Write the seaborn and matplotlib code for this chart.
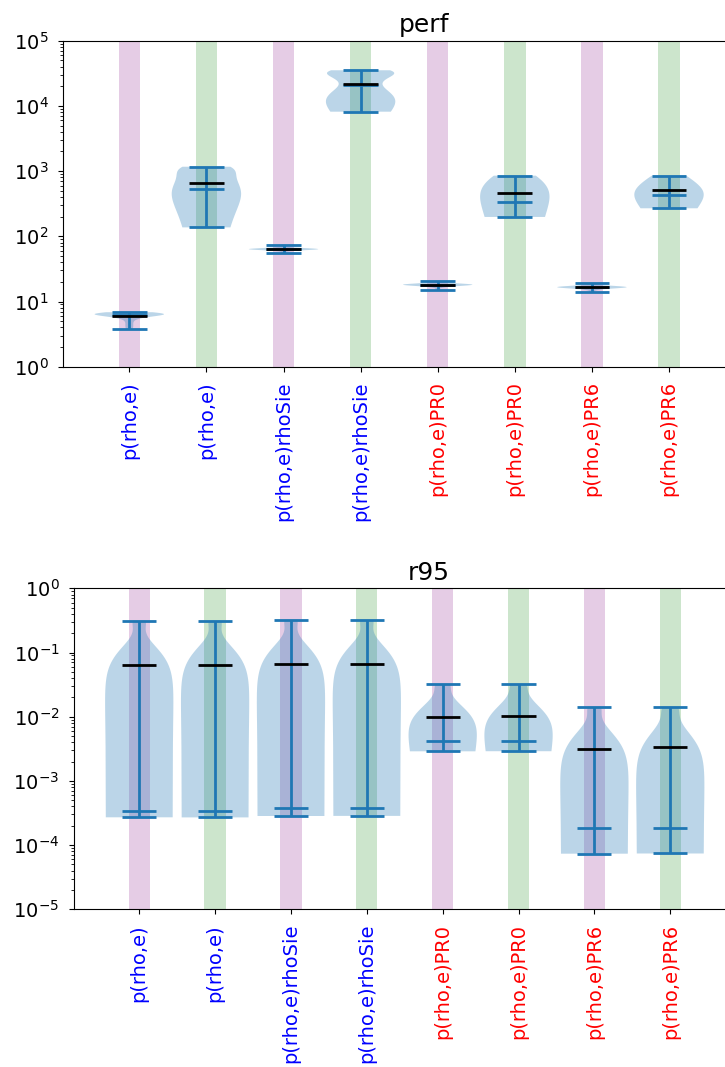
import numpy as np
import pandas as pd
import matplotlib
matplotlib.use("Agg")
import matplotlib.pyplot as plt
import seaborn as sns

# ---- categories -------------------------------------------------------------
labels = ["p(rho,e)", "p(rho,e)", "p(rho,e)rhoSie", "p(rho,e)rhoSie",
          "p(rho,e)PR0", "p(rho,e)PR0", "p(rho,e)PR6", "p(rho,e)PR6"]
label_colors = ["blue", "blue", "blue", "blue", "red", "red", "red", "red"]
band_colors = ["purple", "green", "purple", "green",
               "purple", "green", "purple", "green"]

# ---- perf samples -----------------------------------------------------------
perf_pe_a = [3.79, 4.4, 5.1, 5.6, 5.85, 6.0, 6.1, 6.15, 6.2, 6.25, 6.3,
             6.35, 6.4, 6.45, 6.5, 6.55, 6.6, 6.65, 6.7, 6.75, 6.85]
perf_pe_b = [137, 150, 175, 240, 330, 400, 430, 455, 475, 500, 526,
             620, 780, 880, 960, 1020, 1060, 1100, 1130, 1150, 1167]
perf_sie_a = [55.5, 60.5, 61.5, 62.0, 62.3, 62.6, 62.8, 63.0, 63.2, 63.4, 63.6,
              63.8, 64.0, 64.2, 64.5, 64.8, 65.2, 65.6, 66.2, 67.5, 74.3]
perf_sie_b = [8150, 8600, 9200, 9800, 10500, 11200, 12000, 13000, 14500, 16500, 21000,
              26000, 28500, 30000, 31000, 32000, 33000, 33800, 34400, 34900, 35200]
perf_pr0_a = [14.85, 16.6, 17.2, 17.4, 17.55, 17.7, 17.8, 17.9, 18.0, 18.05, 18.1,
              18.15, 18.2, 18.3, 18.4, 18.5, 18.65, 18.8, 19.0, 19.5, 20.8]
perf_pr0_b = [198, 215, 235, 255, 270, 285, 295, 305, 315, 325, 336,
              370, 410, 470, 560, 700, 790, 820, 835, 845, 851]
perf_pr6_a = [13.8, 15.2, 15.7, 15.9, 16.05, 16.2, 16.3, 16.4, 16.5, 16.55, 16.6,
              16.65, 16.7, 16.8, 16.9, 17.0, 17.15, 17.3, 17.5, 17.9, 19.0]
perf_pr6_b = [269, 290, 310, 330, 345, 360, 375, 390, 400, 412, 425,
              440, 470, 510, 570, 675, 760, 810, 830, 845, 851]

# ---- r95 samples ------------------------------------------------------------
r95_pe_a = [2.71e-4, 2.75e-4, 2.8e-4, 2.85e-4, 2.9e-4, 2.95e-4, 3.0e-4, 3.1e-4, 3.2e-4, 3.3e-4, 3.4e-4,
            0.01, 0.02, 0.04, 0.06, 0.08, 0.11, 0.13, 0.28, 0.3, 0.313]
r95_pe_b = [2.7e-4, 2.74e-4, 2.8e-4, 2.86e-4, 2.9e-4, 2.96e-4, 3.02e-4, 3.1e-4, 3.2e-4, 3.3e-4, 3.4e-4,
            0.01, 0.02, 0.04, 0.06, 0.08, 0.11, 0.13, 0.275, 0.3, 0.313]
r95_sie_a = [2.84e-4, 2.9e-4, 2.95e-4, 3.0e-4, 3.1e-4, 3.2e-4, 3.3e-4, 3.45e-4, 3.55e-4, 3.7e-4, 3.83e-4,
             0.01, 0.02, 0.04, 0.06, 0.085, 0.115, 0.135, 0.29, 0.31, 0.324]
r95_sie_b = [2.85e-4, 2.9e-4, 2.96e-4, 3.0e-4, 3.1e-4, 3.2e-4, 3.3e-4, 3.45e-4, 3.55e-4, 3.7e-4, 3.83e-4,
             0.01, 0.02, 0.04, 0.06, 0.085, 0.115, 0.135, 0.29, 0.31, 0.322]
r95_pr0_a = [2.89e-3, 2.95e-3, 3.0e-3, 3.1e-3, 3.2e-3, 3.3e-3, 3.45e-3, 3.6e-3, 3.8e-3, 4.0e-3, 4.18e-3,
             0.005, 0.007, 0.009, 0.011, 0.013, 0.016, 0.019, 0.03, 0.031, 0.032]
r95_pr0_b = [2.9e-3, 2.95e-3, 3.0e-3, 3.1e-3, 3.2e-3, 3.3e-3, 3.45e-3, 3.6e-3, 3.8e-3, 4.0e-3, 4.2e-3,
             0.005, 0.007, 0.009, 0.012, 0.014, 0.017, 0.021, 0.031, 0.0315, 0.032]
r95_pr6_a = [7.35e-5, 8e-5, 9e-5, 1.0e-4, 1.1e-4, 1.2e-4, 1.3e-4, 1.45e-4, 1.6e-4, 1.72e-4, 1.85e-4,
             0.0005, 0.001, 0.002, 0.003, 0.0043, 0.0058, 0.0068, 0.0128, 0.0137, 0.0143]
r95_pr6_b = [7.4e-5, 8e-5, 9e-5, 1.0e-4, 1.1e-4, 1.2e-4, 1.3e-4, 1.45e-4, 1.6e-4, 1.72e-4, 1.85e-4,
             0.0006, 0.0012, 0.0024, 0.0035, 0.005, 0.0066, 0.0095, 0.0129, 0.0138, 0.0143]

perf = [perf_pe_a, perf_pe_b, perf_sie_a, perf_sie_b,
        perf_pr0_a, perf_pr0_b, perf_pr6_a, perf_pr6_b]
r95 = [r95_pe_a, r95_pe_b, r95_sie_a, r95_sie_b,
       r95_pr0_a, r95_pr0_b, r95_pr6_a, r95_pr6_b]

# kernel bandwidth multiplier used for each violin
perf_bw = [1.0, 1.3, 1.0, 1.0, 1.0, 2.5, 1.0, 2.0]
r95_bw = [1.3, 1.3, 1.3, 1.3, 1.3, 1.3, 1.3, 1.3]

BODY = "#1f77b4"
XLIM = (-0.86, 8.5)


def draw_panel(ax, samples, bws, title, ylim):
    pos = np.arange(len(samples))
    # alternating background bands behind each violin
    for i, c in enumerate(band_colors):
        ax.axvspan(i - 0.14, i + 0.14, color=c, alpha=0.2, lw=0, zorder=0)

    n0 = len(ax.collections)
    for i, (s, bw) in enumerate(zip(samples, bws)):
        df = pd.DataFrame({"slot": np.full(len(s), i), "value": np.asarray(s, float)})
        sns.violinplot(data=df, x="slot", y="value", native_scale=True, orient="x",
                       color=BODY, saturation=1, cut=0, inner=None,
                       density_norm="width", width=0.9, bw_adjust=bw,
                       linewidth=0, ax=ax)
    for coll in ax.collections[n0:]:
        coll.set_alpha(0.3)
        coll.set_edgecolor("none")
        coll.set_zorder(1)

    mins = [np.min(s) for s in samples]
    maxs = [np.max(s) for s in samples]
    meds = [np.median(s) for s in samples]
    means = [np.mean(s) for s in samples]
    half = 0.225
    lw = 2
    ax.vlines(pos, mins, maxs, color=BODY, lw=lw, zorder=3)
    ax.hlines(mins, pos - half, pos + half, color=BODY, lw=lw, zorder=3)
    ax.hlines(maxs, pos - half, pos + half, color=BODY, lw=lw, zorder=3)
    ax.hlines(meds, pos - half, pos + half, color=BODY, lw=lw, zorder=3)
    ax.hlines(means, pos - half, pos + half, color="black", lw=lw, zorder=4)

    ax.set_yscale("log")
    ax.set_ylim(*ylim)
    ax.set_xlim(*XLIM)
    ax.set_xticks(pos)
    ax.set_xticklabels(labels, rotation=90, fontsize=14)
    for t, c in zip(ax.get_xticklabels(), label_colors):
        t.set_color(c)
    ax.tick_params(axis="y", labelsize=14)
    ax.tick_params(axis="both", which="major", pad=7)
    ax.set_xlabel("")
    ax.set_ylabel("")
    ax.set_title(title, fontsize=18)


fig = plt.figure(figsize=(7.25, 10.67), dpi=100)
W, H = 725.0, 1067.0
span = XLIM[1] - XLIM[0]
ax_top = fig.add_axes([63 / W, (H - 366.7) / H, 77.1 * span / W, 326.0 / H])
ax_bot = fig.add_axes([74 / W, (H - 909.3) / H, 75.86 * span / W, 321.0 / H])

draw_panel(ax_top, perf, perf_bw, "perf", (1, 1e5))
draw_panel(ax_bot, r95, r95_bw, "r95", (1e-5, 1))

fig.savefig("out.png", dpi=100)
